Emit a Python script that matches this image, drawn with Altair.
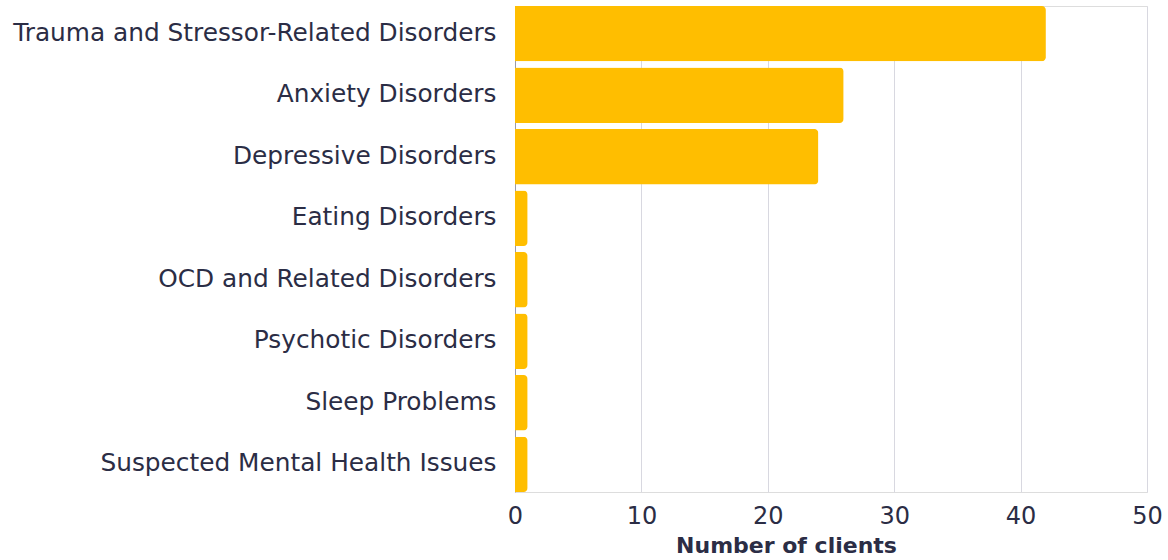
import altair as alt
import pandas as pd

categories = [
    "Trauma and Stressor-Related Disorders",
    "Anxiety Disorders",
    "Depressive Disorders",
    "Eating Disorders",
    "OCD and Related Disorders",
    "Psychotic Disorders",
    "Sleep Problems",
    "Suspected Mental Health Issues",
]
values = [42, 26, 24, 1, 1, 1, 1, 1]

df = pd.DataFrame({"category": categories, "clients": values})

TEXT = "#2b2d45"
FONT = "DejaVu Sans"

chart = (
    alt.Chart(df)
    .mark_bar(color="#FFBE00", cornerRadiusTopRight=4, cornerRadiusBottomRight=4)
    .encode(
        x=alt.X(
            "clients:Q",
            scale=alt.Scale(domain=[0, 50]),
            axis=alt.Axis(
                title="Number of clients",
                values=[0, 10, 20, 30, 40, 50],
                grid=True,
                gridColor="#d8d8e0",
                domain=False,
                ticks=False,
                labelFlush=False,
                labelFontSize=24,
                labelColor=TEXT,
                labelFont=FONT,
                labelPadding=12,
                titleFontSize=22,
                titleFont=FONT,
                titleFontWeight="bold",
                titleColor=TEXT,
                titlePadding=7,
                titleX=271,
                titleAlign="center",
            ),
        ),
        y=alt.Y(
            "category:N",
            sort=categories,
            scale=alt.Scale(paddingInner=0.1, paddingOuter=0.0),
            axis=alt.Axis(
                title=None,
                domain=True,
                domainColor="#9a9aa8",
                ticks=False,
                labelFontSize=24.8,
                labelColor=TEXT,
                labelFont=FONT,
                labelPadding=19,
                labelLimit=700,
            ),
        ),
    )
    .properties(
        width=632,
        height=486,
        autosize=alt.AutoSizeParams(type="none"),
        padding={"left": 515, "top": 6, "right": 21, "bottom": 68},
    )
    .configure_view(stroke=None)
    .configure(background="white")
)

chart.save("out.html", embed_options={"renderer": "svg", "actions": False})
